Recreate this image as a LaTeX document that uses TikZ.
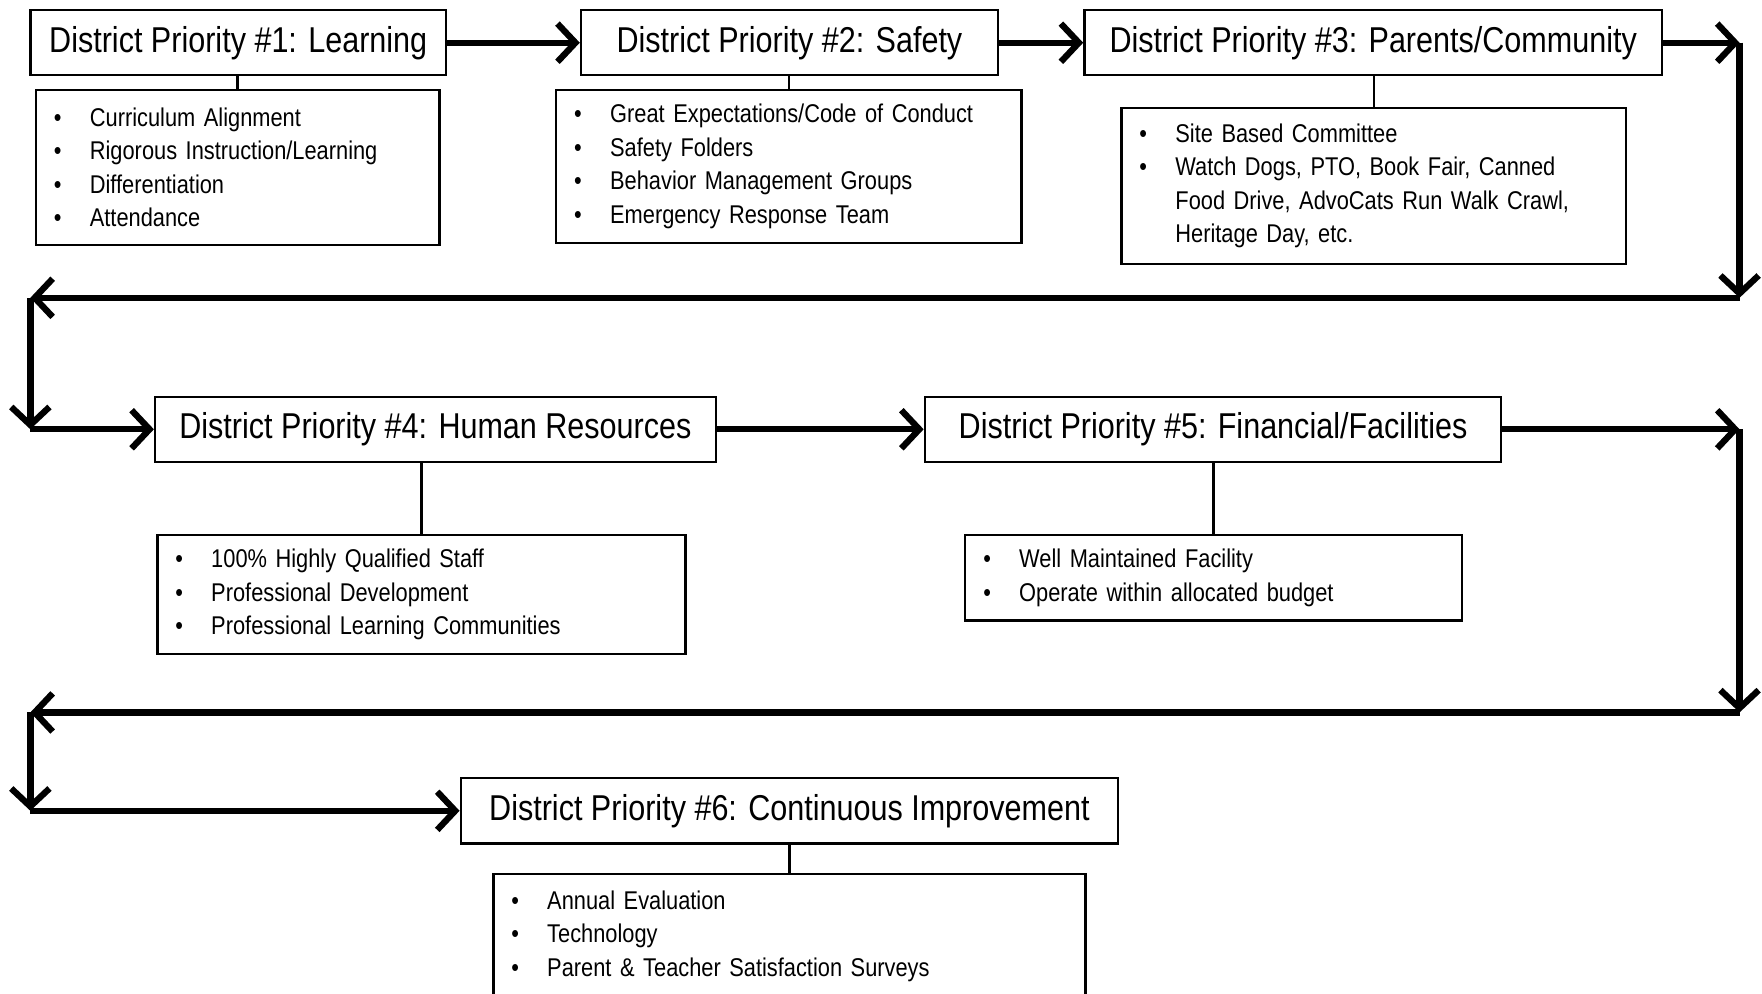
\documentclass[tikz,border=0pt]{standalone}
\usepackage{fontspec}
\setmainfont{Liberation Sans}[FakeStretch=0.85]
\usetikzlibrary{arrows.meta}
\newcommand{\itm}{\makebox[3.2mm][l]{\textbullet}}
\newcommand{\cnt}{\hspace*{3.2mm}}
\begin{document}
\begin{tikzpicture}[x=0.1mm,y=-0.1mm,line width=0.6pt,
  title/.style={draw,minimum height=5.8mm,inner sep=0pt,font=\fontsize{9.1pt}{11pt}\selectfont},
  list/.style={draw,inner xsep=1.6mm,inner ysep=0pt,align=left,font=\fontsize{6.5pt}{8.5pt}\selectfont},
  flow/.style={line width=1.6pt,-{Straight Barb[length=1.6mm,width=3.4mm]}}]
\path[use as bounding box,clip] (0,0) rectangle (1568,884);
\node[title,minimum width=37mm] (p1) at (212,38) {District Priority \#1: Learning};
\node[title,minimum width=37.1mm] (p2) at (702.5,38) {District Priority \#2: Safety};
\node[title,minimum width=51.4mm] (p3) at (1222,38) {District Priority \#3: Parents/Community};
\node[title,minimum width=49.9mm] (p4) at (387.5,382) {District Priority \#4: Human Resources};
\node[title,minimum width=51.3mm] (p5) at (1079.5,382) {District Priority \#5: Financial/Facilities};
\node[title,minimum width=58.5mm] (p6) at (702.5,721.5) {District Priority \#6: Continuous Improvement};
\node[list,text width=32.7mm,minimum height=13.8mm] (l1) at (211.5,149) {\itm Curriculum Alignment\\ \itm Rigorous Instruction/Learning\\ \itm Differentiation\\ \itm Attendance};
\node[list,text width=38.2mm,minimum height=13.6mm] (l2) at (702,148) {\itm Great Expectations/Code of Conduct\\ \itm Safety Folders\\ \itm Behavior Management Groups\\ \itm Emergency Response Team};
\node[list,text width=41.7mm,minimum height=13.9mm] (l3) at (1222.5,165.5) {\itm Site Based Committee\\ \itm Watch Dogs, PTO, Book Fair, Canned\\ \cnt Food Drive, AdvoCats Run Walk Crawl,\\ \cnt Heritage Day, etc.};
\node[list,text width=43.8mm,minimum height=10.6mm] (l4) at (375,529) {\itm 100\% Highly Qualified Staff\\ \itm Professional Development\\ \itm Professional Learning Communities};
\node[list,text width=41mm,minimum height=7.6mm] (l5) at (1080,514) {\itm Well Maintained Facility\\ \itm Operate within allocated budget};
\node[list,text width=49.5mm,minimum height=11mm] (l6) at (702.5,833) {\itm Annual Evaluation\\ \itm Technology\\ \itm Parent \& Teacher Satisfaction Surveys};
\foreach \i in {1,...,6}
  \draw (l\i.north) -- (l\i.north |- p\i.south);
\coordinate (k1) at (1548,38);
\coordinate (k2) at (1548,265);
\coordinate (k3) at (27,265);
\coordinate (k4) at (27,382);
\coordinate (k5) at (1548,382);
\coordinate (k6) at (1548,634);
\coordinate (k7) at (27,634);
\coordinate (k8) at (27,721.5);
\draw[flow] (p1) -- (p2);
\draw[flow] (p2) -- (p3);
\draw[flow] (p3) -- (k1);
\draw[flow] (k1) -- (k2);
\draw[flow] (k2) -- (k3);
\draw[flow] (k3) -- (k4);
\draw[flow] (k4) -- (p4);
\draw[flow] (p4) -- (p5);
\draw[flow] (p5) -- (k5);
\draw[flow] (k5) -- (k6);
\draw[flow] (k6) -- (k7);
\draw[flow] (k7) -- (k8);
\draw[flow] (k8) -- (p6);
\end{tikzpicture}
\end{document}
